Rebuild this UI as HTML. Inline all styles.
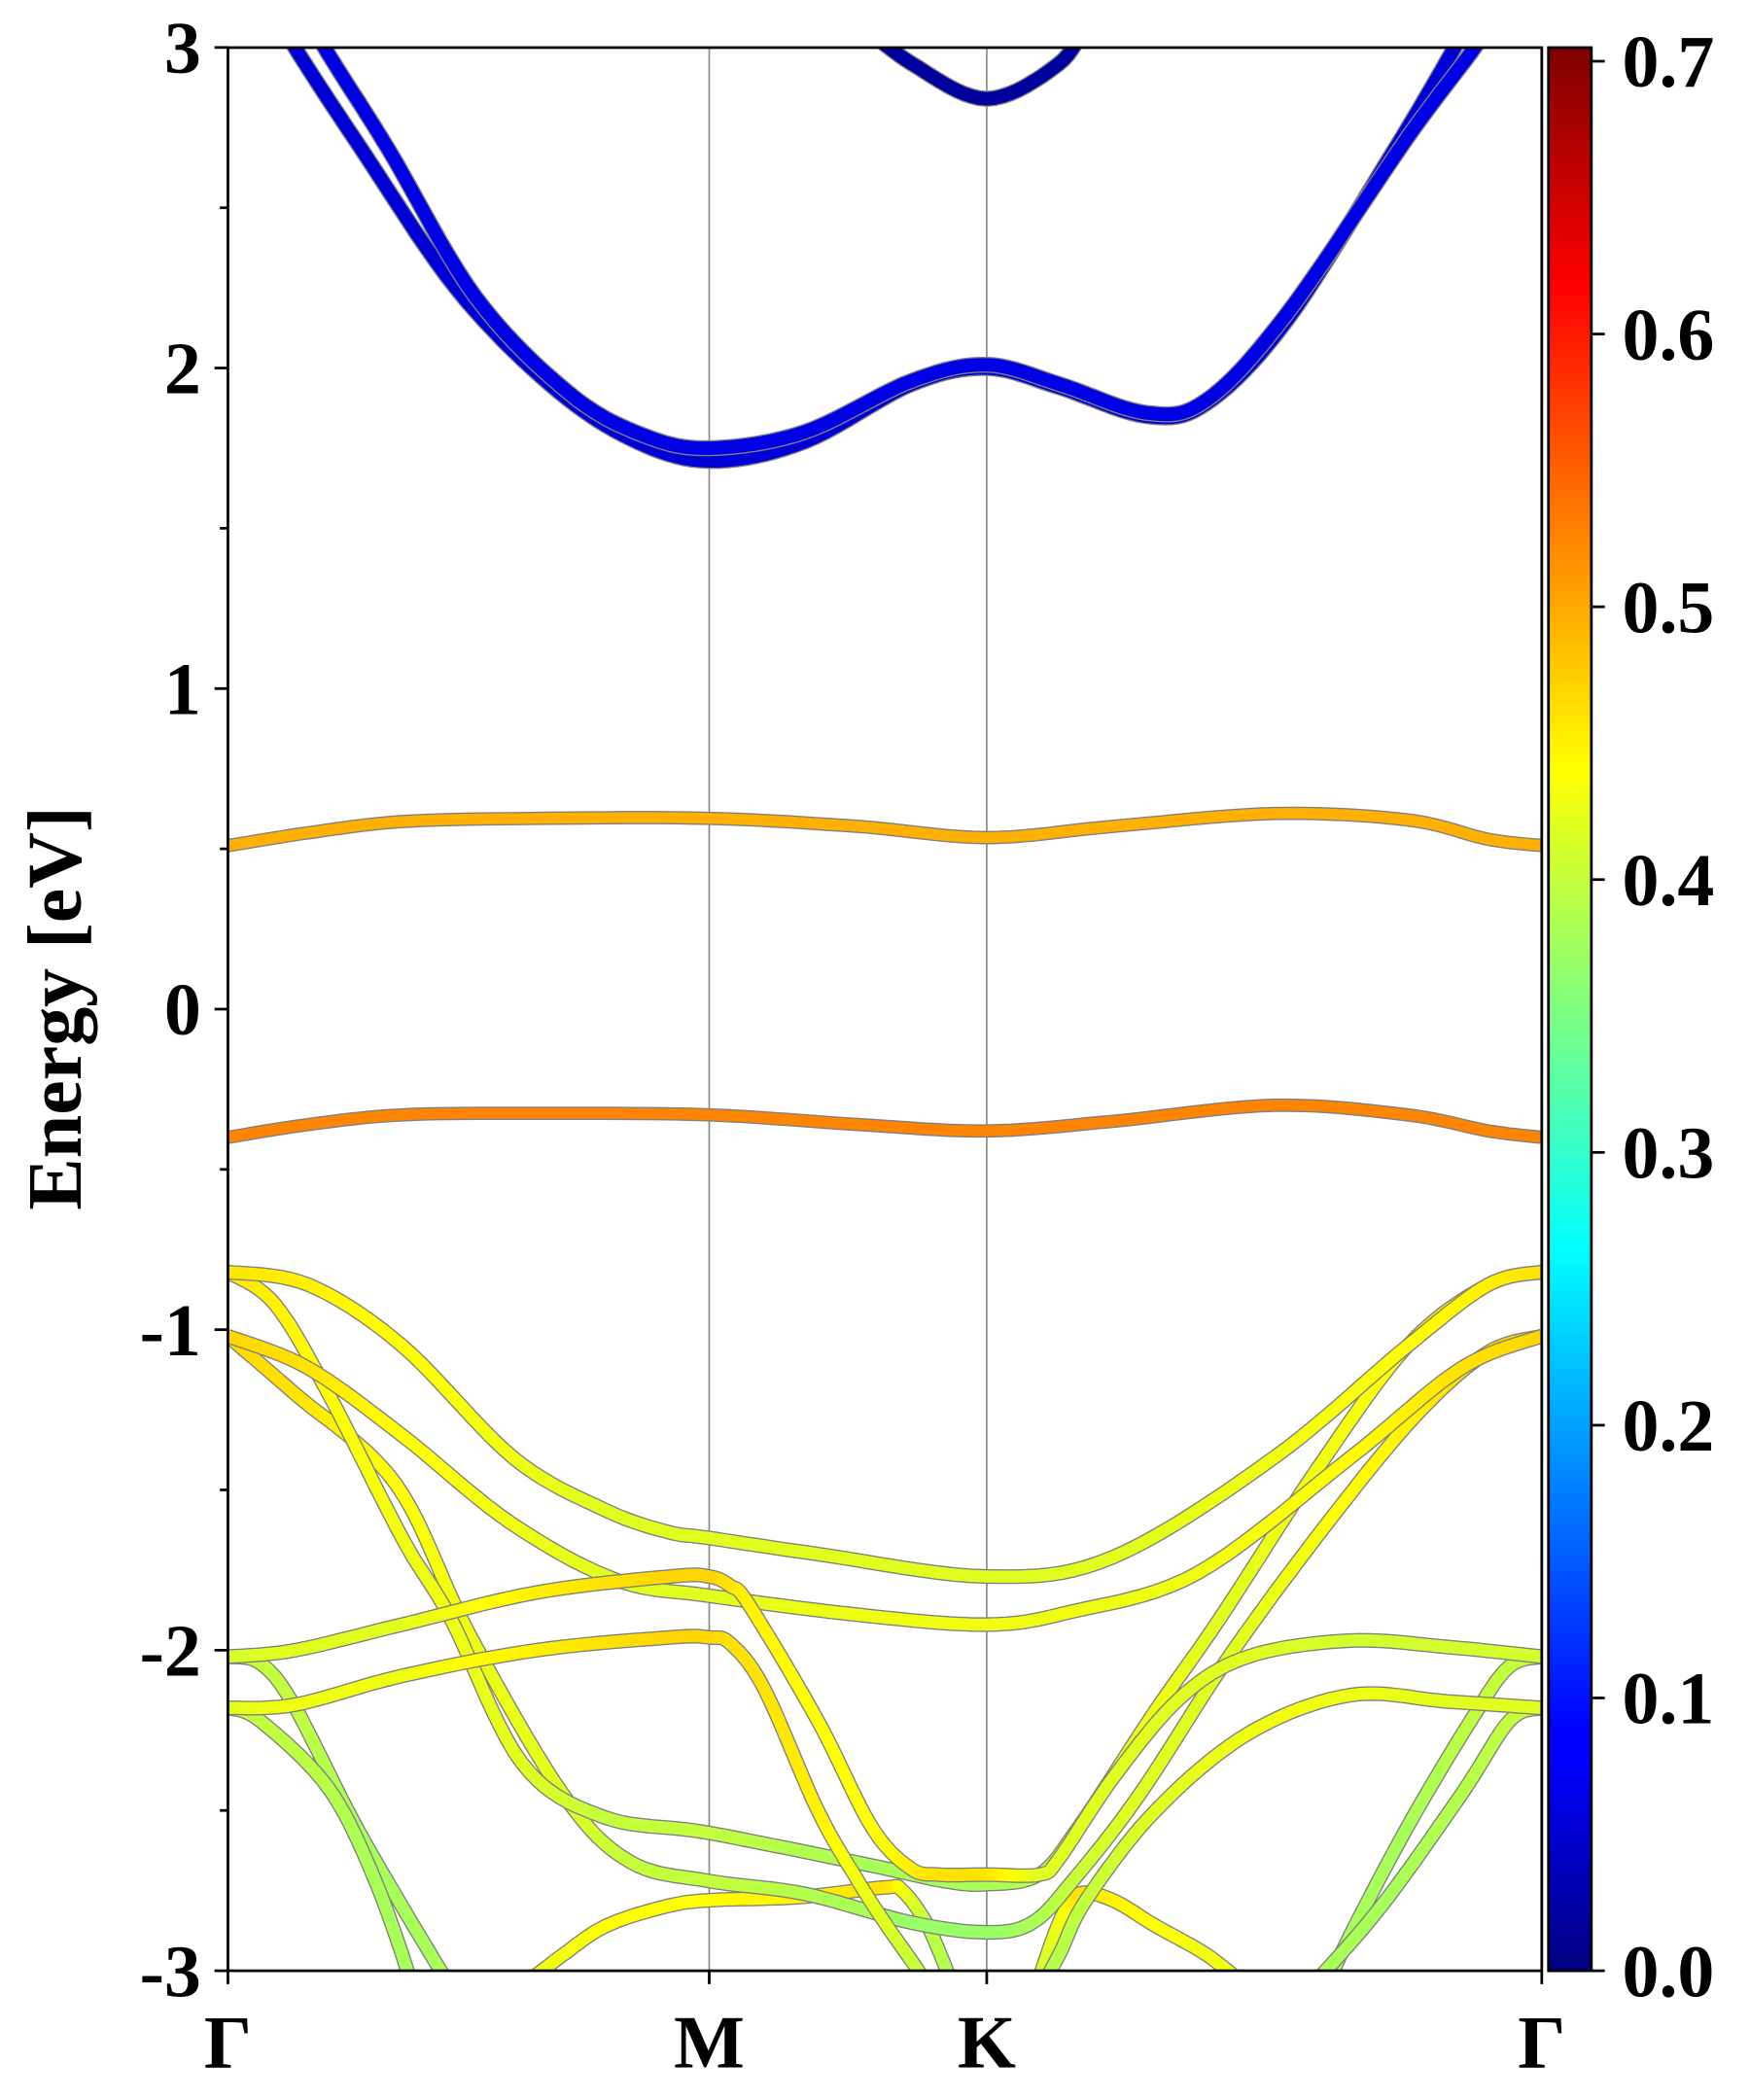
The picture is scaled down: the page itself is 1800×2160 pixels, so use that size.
<!DOCTYPE html>
<html><head><meta charset="utf-8"><style>
html,body{margin:0;padding:0;background:#fff}
svg{display:block}
text{font-family:"Liberation Serif",serif;font-weight:bold;fill:#000}
</style></head><body>
<svg id="s" width="1800" height="2160" viewBox="0 0 1305.3 1566.4" xmlns="http://www.w3.org/2000/svg">
<defs>
<clipPath id="cp"><rect x="170" y="35.5" width="980" height="1434.5"/></clipPath>
<linearGradient id="jet" x1="0" y1="1" x2="0" y2="0">
<stop offset="0" stop-color="#00007f"/>
<stop offset="0.11" stop-color="#0000ff"/>
<stop offset="0.125" stop-color="#0000ff"/>
<stop offset="0.375" stop-color="#00ffff"/>
<stop offset="0.625" stop-color="#ffff00"/>
<stop offset="0.875" stop-color="#ff0000"/>
<stop offset="1" stop-color="#7f0000"/>
</linearGradient>
</defs>
<g id="vl" stroke="#888" stroke-width="1.2">
<line x1="529" y1="35.5" x2="529" y2="1470"/>
<line x1="736" y1="35.5" x2="736" y2="1470"/>
</g>
<g id="bands" clip-path="url(#cp)"></g>
<rect x="170" y="35.5" width="980" height="1434.5" fill="none" stroke="#000" stroke-width="2"/>
<g id="ticks" stroke="#000" stroke-width="2"></g>
<g id="lab"></g>
<rect x="1155" y="35.5" width="32" height="1434.5" fill="url(#jet)" stroke="#000" stroke-width="2"/>
<text x="40" y="752" font-size="58" text-anchor="middle" transform="rotate(-90 40 752)" dy="20">Energy [eV]</text>
<text x="170" y="1542" font-size="56" text-anchor="middle">Γ</text>
<text x="529" y="1542" font-size="56" text-anchor="middle">M</text>
<text x="736" y="1542" font-size="56" text-anchor="middle">K</text>
<text x="1150" y="1542" font-size="56" text-anchor="middle">Γ</text>
</svg>
<script>
var NS="http://www.w3.org/2000/svg";
function Y(E){return 752.7-239.1*E;}
function jet(v){var t=v/0.705;function c(x){return Math.max(0,Math.min(1,x));}
var r=c(1.5-Math.abs(4*t-3)),g=c(1.5-Math.abs(4*t-2)),b=c(1.5-Math.abs(4*t-1));
return "rgb("+Math.round(r*255)+","+Math.round(g*255)+","+Math.round(b*255)+")";}
function el(tag,at,p){var e=document.createElementNS(NS,tag);for(var k in at)e.setAttribute(k,at[k]);p.appendChild(e);return e;}
var G=document.getElementById("bands");
var ADJ=false;
function band(pts,w){
 var P=pts.map(function(p){var v=p[2];if(ADJ&&v>0.43)v-=0.02;return [p[0],Y(p[1]),v];});
 var S=[];
 for(var i=0;i<P.length-1;i++){
  var p0=P[Math.max(0,i-1)],p1=P[i],p2=P[i+1],p3=P[Math.min(P.length-1,i+2)];
  for(var j=0;j<10;j++){var t=j/10,t2=t*t,t3=t2*t;
   function cr(a,b,c,d){return 0.5*((2*b)+(-a+c)*t+(2*a-5*b+4*c-d)*t2+(-a+3*b-3*c+d)*t3);}
   S.push([cr(p0[0],p1[0],p2[0],p3[0]),cr(p0[1],p1[1],p2[1],p3[1]),p1[2]+(p2[2]-p1[2])*t]);}
 }
 var l=P[P.length-1];S.push([l[0],l[1],l[2]]);
 var d="M"+S.map(function(s){return s[0].toFixed(1)+","+s[1].toFixed(1);}).join("L");
 el("path",{d:d,fill:"none",stroke:"#808080","stroke-width":w+2,"stroke-linejoin":"round"},G);
 for(var i=0;i<S.length-1;i++){
  el("line",{x1:S[i][0].toFixed(1),y1:S[i][1].toFixed(1),x2:S[i+1][0].toFixed(1),y2:S[i+1][1].toFixed(1),stroke:jet((S[i][2]+S[i+1][2])/2),"stroke-width":w,"stroke-linecap":"round"},G);
 }
}
function cv(a,v){return a.map(function(p){return [p[0],p[1],p.length>2?p[2]:v];});}
// conduction
band(cv([[640,3.08],[680,2.95],[736,2.84],[790,2.95],[810,3.08]],0.02),10);
band(cv([[212,3.08],[220,3.0],[270,2.68],[340,2.25],[410,1.95],[470,1.78],[529,1.71],[600,1.77],[680,1.95],[736,2.0],[790,1.94],[855,1.85],[900,1.89],[960,2.15],[1040,2.68],[1085,3.0],[1095,3.08]],0.06),10);
band(cv([[234,3.08],[242,3.0],[290,2.68],[355,2.22],[425,1.92],[480,1.79],[529,1.75],[600,1.80],[680,1.96],[736,2.01],[790,1.95],[855,1.86],[900,1.90],[960,2.17],[1050,2.72],[1100,3.0],[1110,3.08]],0.07),10);
// flat
band(cv([[170,0.51],[230,0.55],[300,0.585],[400,0.595],[529,0.595],[640,0.57],[736,0.535],[830,0.57],[950,0.61],[1050,0.59],[1110,0.53],[1150,0.51]],0.495),8);
band(cv([[170,-0.40],[230,-0.36],[300,-0.33],[400,-0.325],[529,-0.33],[640,-0.36],[736,-0.38],[830,-0.35],[950,-0.30],[1050,-0.33],[1110,-0.38],[1150,-0.40]],0.525),8);
ADJ=true;
// valence
band([[170,-2.02,0.41],[194,-2.04,0.40],[219,-2.17,0.40],[263,-2.53,0.38],[300,-2.80,0.38],[336,-3.05,0.38]],9);
band([[170,-2.18,0.41],[194,-2.22,0.40],[245,-2.43,0.39],[280,-2.72,0.38],[308,-3.05,0.38]],9);
band([[1150,-2.02,0.41],[1126,-2.05,0.40],[1100,-2.2,0.40],[1050,-2.55,0.38],[1000,-2.95,0.38],[993,-3.05,0.38]],9);
band([[1150,-2.18,0.41],[1126,-2.22,0.40],[1090,-2.45,0.39],[1030,-2.8,0.38],[978,-3.05,0.38]],9);
band([[389,-3.05,0.45],[420,-2.95,0.45],[452,-2.86,0.46],[496,-2.80,0.46],[529,-2.78,0.46],[597,-2.77,0.47],[660,-2.74,0.48],[673,-2.75,0.46],[692,-2.86,0.40],[711,-3.05,0.38]],9);
band([[773,-3.05,0.40],[790,-2.85,0.45],[805,-2.76,0.48],[830,-2.78,0.47],[862,-2.86,0.46],[900,-2.95,0.45],[930,-3.05,0.45]],9);
band([[170,-1.02,0.49],[220,-1.2,0.48],[295,-1.48,0.46],[350,-1.95,0.45],[420,-2.45,0.42],[470,-2.66,0.40],[529,-2.72,0.40],[600,-2.76,0.39],[680,-2.85,0.37],[736,-2.88,0.37],[770,-2.85,0.38],[800,-2.72,0.40],[850,-2.45,0.42],[920,-2.0,0.44],[1000,-1.55,0.46],[1060,-1.25,0.47],[1110,-1.07,0.49],[1150,-1.02,0.49]],9);
band([[170,-0.82,0.48],[205,-0.92,0.47],[245,-1.2,0.46],[300,-1.65,0.45],[336,-1.90,0.45],[389,-2.35,0.42],[450,-2.52,0.40],[529,-2.57,0.40],[648,-2.67,0.38],[704,-2.72,0.38],[736,-2.73,0.38],[775,-2.70,0.39],[805,-2.55,0.41],[860,-2.2,0.43],[910,-1.9,0.44],[980,-1.45,0.45],[1050,-1.05,0.46],[1110,-0.86,0.48],[1150,-0.82,0.48]],9);
band([[170,-1.02,0.49],[230,-1.12,0.48],[300,-1.33,0.46],[380,-1.60,0.45],[459,-1.78,0.44],[529,-1.83,0.44],[641,-1.89,0.45],[736,-1.92,0.45],[799,-1.88,0.45],[893,-1.76,0.45],[1007,-1.40,0.46],[1090,-1.12,0.48],[1150,-1.02,0.49]],9);
band([[170,-0.82,0.48],[230,-0.86,0.47],[300,-1.05,0.46],[383,-1.40,0.45],[450,-1.56,0.44],[497,-1.63,0.44],[529,-1.65,0.44],[610,-1.70,0.44],[736,-1.77,0.44],[830,-1.71,0.44],[950,-1.40,0.45],[1050,-1.05,0.46],[1110,-0.86,0.47],[1150,-0.82,0.48]],9);
band([[170,-2.02,0.41],[220,-2.0,0.42],[300,-1.92,0.44],[400,-1.82,0.47],[500,-1.77,0.49],[529,-1.77,0.49],[545,-1.80,0.48],[559,-1.86,0.47],[610,-2.22,0.46],[650,-2.55,0.46],[679,-2.68,0.47],[700,-2.70,0.48],[736,-2.70,0.48],[775,-2.70,0.44],[790,-2.65,0.42],[830,-2.40,0.42],[880,-2.15,0.42],[931,-2.02,0.42],[1007,-1.97,0.41],[1080,-1.99,0.41],[1150,-2.02,0.41]],9);
band([[170,-2.18,0.42],[220,-2.17,0.43],[300,-2.08,0.45],[400,-2.0,0.47],[500,-1.96,0.49],[529,-1.96,0.49],[545,-1.98,0.48],[570,-2.12,0.48],[610,-2.5,0.47],[640,-2.72,0.45],[660,-2.85,0.42],[685,-3.0,0.40],[700,-3.1,0.40]],9);
band([[1150,-2.18,0.42],[1080,-2.16,0.42],[1007,-2.14,0.43],[931,-2.26,0.43],[862,-2.5,0.42],[810,-2.78,0.40],[790,-2.95,0.39],[770,-3.1,0.39]],9);
// ticks
var T=document.getElementById("ticks"),L=document.getElementById("lab");
for(var e=-3;e<=3;e+=0.5){var y=Y(e),maj=Math.abs(e-Math.round(e))<1e-6;
 el("line",{x1:maj?160:164,y1:y,x2:170,y2:y},T);
 if(maj){var t=el("text",{x:150,y:y+19,"font-size":55,"text-anchor":"end"},L);t.textContent=String(Math.round(e));}
}
[170,529,736,1150].forEach(function(x){el("line",{x1:x,y1:1470,x2:x,y2:1480},T);});
for(var i=0;i<=7;i++){var v=i/10,y=1470-v/0.705*1434.5;
 el("line",{x1:1187,y1:y,x2:1197,y2:y},T);
 var t=el("text",{x:1210,y:y+19,"font-size":55},L);t.textContent=v.toFixed(1);}
</script>
</body></html>
